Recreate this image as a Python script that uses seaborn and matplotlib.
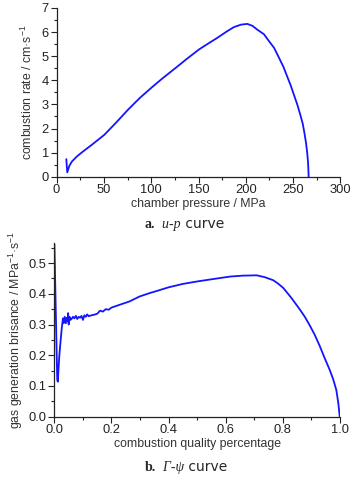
import matplotlib
matplotlib.use("Agg")
import matplotlib.pyplot as plt
import seaborn as sns
import pandas as pd
from matplotlib.ticker import MultipleLocator, FormatStrFormatter

# ---- data ----
pressure = [10.3, 11.3, 13.5, 16.2, 21.4, 28.0, 37.4, 50.5, 63.0, 75.5, 88.0, 101.0,
            111.9, 125.7, 138.0, 150.5, 160.0, 169.8, 180.0, 187.5, 195.0, 201.6,
            207.0, 212.2, 219.2, 224.0, 229.8, 234.5, 239.7, 243.5, 247.5, 251.0,
            254.5, 257.5, 260.2, 262.0, 263.7, 264.9, 265.8, 266.4]
rate = [0.73, 0.18, 0.45, 0.63, 0.84, 1.05, 1.33, 1.74, 2.25, 2.78, 3.27, 3.72,
        4.08, 4.51, 4.90, 5.28, 5.52, 5.76, 6.03, 6.21, 6.31, 6.34,
        6.26, 6.10, 5.91, 5.65, 5.35, 4.98, 4.56, 4.18, 3.78, 3.38,
        2.98, 2.58, 2.19, 1.80, 1.38, 0.98, 0.56, 0.0]

psi = [0.0, 0.002, 0.004, 0.006, 0.008, 0.010, 0.012, 0.014, 0.017, 0.020, 0.022, 0.026,
       0.030, 0.033, 0.036, 0.040, 0.043, 0.046, 0.048, 0.050, 0.053, 0.056, 0.060,
       0.065, 0.070, 0.075, 0.080, 0.085, 0.090, 0.095, 0.100, 0.105, 0.110, 0.115,
       0.120, 0.130, 0.140, 0.150, 0.160, 0.170, 0.180, 0.190, 0.200, 0.228, 0.263,
       0.298, 0.333, 0.362, 0.400, 0.450, 0.500, 0.550, 0.616, 0.661, 0.709, 0.737,
       0.767, 0.784, 0.802, 0.831, 0.860, 0.877, 0.895, 0.912, 0.930, 0.947, 0.965,
       0.977, 0.988, 0.995, 1.0]
gamma = [0.56, 0.47, 0.38, 0.29, 0.20, 0.12, 0.114, 0.15, 0.196, 0.23, 0.25, 0.29,
         0.32, 0.305, 0.325, 0.304, 0.322, 0.31, 0.337, 0.30, 0.325, 0.315, 0.318,
         0.325, 0.32, 0.328, 0.318, 0.325, 0.322, 0.328, 0.315, 0.33, 0.325, 0.333,
         0.327, 0.33, 0.332, 0.335, 0.345, 0.342, 0.35, 0.348, 0.355, 0.364, 0.375,
         0.391, 0.402, 0.41, 0.421, 0.432, 0.440, 0.447, 0.456, 0.459, 0.460, 0.454,
         0.444, 0.433, 0.419, 0.386, 0.349, 0.326, 0.297, 0.267, 0.230, 0.191, 0.152,
         0.122, 0.087, 0.044, 0.0]

df_a = pd.DataFrame({"p": pressure, "u": rate})
df_b = pd.DataFrame({"psi": psi, "g": gamma})

sns.set_style("ticks")
plt.rcParams["font.family"] = ["Liberation Sans", "DejaVu Sans"]
plt.rcParams["mathtext.fontset"] = "custom"
plt.rcParams["mathtext.rm"] = "Liberation Sans"
plt.rcParams["mathtext.it"] = "Liberation Sans"
plt.rcParams["mathtext.default"] = "regular"

fig = plt.figure(figsize=(3.58, 4.79), dpi=100)
ax1 = fig.add_axes([0.158, 0.6310, 0.793, 0.3523])
ax2 = fig.add_axes([0.152, 0.130, 0.797, 0.3626])

line_kw = dict(color="#1414ff", linewidth=1.3, sort=False, estimator=None)
sns.lineplot(data=df_a, x="p", y="u", ax=ax1, **line_kw)
sns.lineplot(data=df_b, x="psi", y="g", ax=ax2, **line_kw)

LAB = 8.8
ax1.set_xlim(0, 300)
ax1.set_ylim(0, 7)
ax1.xaxis.set_major_locator(MultipleLocator(50))
ax1.xaxis.set_minor_locator(MultipleLocator(25))
ax1.yaxis.set_major_locator(MultipleLocator(1))
ax1.yaxis.set_minor_locator(MultipleLocator(0.5))
ax1.set_xlabel("chamber pressure / MPa", fontsize=LAB, labelpad=1)
ax1.set_ylabel(r"combustion rate / cm·s$^{-1}$", fontsize=LAB, labelpad=5)

ax2.set_xlim(0, 1.0)
ax2.set_ylim(0, 0.565)
ax2.xaxis.set_major_locator(MultipleLocator(0.2))
ax2.xaxis.set_minor_locator(MultipleLocator(0.1))
ax2.yaxis.set_major_locator(MultipleLocator(0.1))
ax2.yaxis.set_minor_locator(MultipleLocator(0.05))
ax2.xaxis.set_major_formatter(FormatStrFormatter("%.1f"))
ax2.yaxis.set_major_formatter(FormatStrFormatter("%.1f"))
ax2.set_xlabel("combustion quality percentage", fontsize=LAB, labelpad=1)
ax2.set_ylabel(r"gas generation brisance / MPa$^{-1}$·s$^{-1}$", fontsize=LAB, labelpad=3)

for ax in (ax1, ax2):
    sns.despine(ax=ax)
    ax.tick_params(which="major", direction="out", length=4, width=0.8,
                   labelsize=9.3, pad=1.5, colors="#222222")
    ax.tick_params(which="minor", direction="out", length=2.5, width=0.8,
                   colors="#222222")
    for s in ("left", "bottom"):
        ax.spines[s].set_linewidth(0.9)
        ax.spines[s].set_color("#222222")
    ax.xaxis.label.set_color("#333333")
    ax.yaxis.label.set_color("#333333")


def caption(y, label, parts):
    t = fig.text(0.405, y, label, fontsize=10, family="Liberation Serif",
                 fontweight="bold", ha="left", va="baseline")
    prev = t
    for txt, style in parts:
        if style == "it":
            kw = dict(family="Liberation Serif", style="italic")
        else:
            kw = dict(family="DejaVu Sans")
        prev = ax1.annotate(txt, xy=(1, 0), xycoords=prev, fontsize=10,
                            ha="left", va="bottom", annotation_clip=False, **kw)


caption(1 - 228 / 479, "a.", [("  u-p", "it"), (" curve", "")])
caption(1 - 471 / 479, "b.", [("  Γ-ψ", "it"), (" curve", "")])

fig.savefig("out.png", dpi=100)
